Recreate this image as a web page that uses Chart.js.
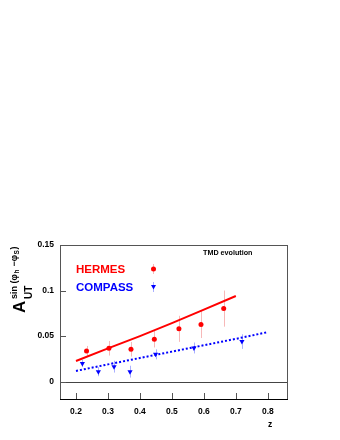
<!DOCTYPE html>
<html>
<head>
<meta charset="utf-8">
<script src="https://cdn.jsdelivr.net/npm/chart.js@4"></script>
<style>
  body { margin: 0; background: #fff; }
  canvas { display: block; }
</style>
</head>
<body>
<canvas id="sivers" width="340" height="440"></canvas>
<script>
// Data
const xTicks = [0.2, 0.3, 0.4, 0.5, 0.6, 0.7, 0.8];
const yTicks = [0, 0.05, 0.1, 0.15];

// TMD evolution curves
const hermesCurveZ = [0.2, 0.3, 0.4, 0.5, 0.6, 0.7];
const hermesCurve = [0.0227, 0.0365, 0.050, 0.0642, 0.079, 0.094];
const compassCurveZ = [0.2, 0.3, 0.4, 0.5, 0.6, 0.7, 0.8];
const compassCurve = [0.0118, 0.019, 0.026, 0.033, 0.040, 0.047, 0.0544];

// measured points
const hermesZ = [0.233, 0.303, 0.372, 0.445, 0.522, 0.591, 0.662];
const hermesA = [0.0337, 0.0367, 0.0356, 0.0466, 0.058, 0.0627, 0.0802];
const hermesErr = [0.0055, 0.008, 0.008, 0.009, 0.0143, 0.0148, 0.0198];
const compassZ = [0.220, 0.270, 0.319, 0.369, 0.449, 0.569, 0.719];
const compassA = [0.020, 0.011, 0.0165, 0.011, 0.030, 0.037, 0.044];
const compassErr = [0.004, 0.005, 0.0065, 0.0065, 0.0055, 0.006, 0.008];

const RED = '#ff0000';
const BLUE = '#0000ff';
const FONT = '"Liberation Sans", Arial, Helvetica, sans-serif';

const pts = (xs, ys) => xs.map((x, i) => ({ x: x, y: ys[i] }));

// error bars, zero line, frame, legend and titles
const rootStyle = {
    id: 'rootStyle',
    beforeDatasetsDraw(chart) {
        const ctx = chart.ctx;
        const xs = chart.scales.x, ys = chart.scales.y;
        const a = chart.chartArea;
        ctx.save();
        // zero line
        ctx.strokeStyle = '#444';
        ctx.lineWidth = 1;
        ctx.beginPath();
        ctx.moveTo(a.left, Math.round(ys.getPixelForValue(0)) + 0.5);
        ctx.lineTo(a.right, Math.round(ys.getPixelForValue(0)) + 0.5);
        ctx.stroke();
        // error bars
        const bars = (zs, as, es, col) => {
            ctx.strokeStyle = col;
            ctx.lineWidth = 1;
            zs.forEach((z, i) => {
                const px = Math.round(xs.getPixelForValue(z)) + 0.5;
                ctx.beginPath();
                ctx.moveTo(px, ys.getPixelForValue(as[i] - es[i]));
                ctx.lineTo(px, ys.getPixelForValue(as[i] + es[i]));
                ctx.stroke();
            });
        };
        bars(hermesZ, hermesA, hermesErr, '#f7b8b8');
        bars(compassZ, compassA, compassErr, '#aab0ff');
        ctx.restore();
    },
    afterDraw(chart) {
        const ctx = chart.ctx;
        const xs = chart.scales.x, ys = chart.scales.y;
        const a = chart.chartArea;
        ctx.save();
        // frame
        ctx.lineWidth = 1;
        ctx.strokeStyle = '#555';
        ctx.strokeRect(a.left + 0.5, a.top + 0.5, a.right - a.left, a.bottom - a.top);
        ctx.strokeStyle = '#000';
        ctx.beginPath();
        ctx.moveTo(a.left, a.bottom + 0.5);
        ctx.lineTo(a.right + 1, a.bottom + 0.5);
        ctx.stroke();
        // inward ticks
        ctx.strokeStyle = '#555';
        ctx.beginPath();
        xTicks.forEach(v => {
            const px = Math.round(xs.getPixelForValue(v)) + 0.5;
            ctx.moveTo(px, a.bottom);
            ctx.lineTo(px, a.bottom - 6);
        });
        yTicks.forEach(v => {
            const py = Math.round(ys.getPixelForValue(v)) + 0.5;
            ctx.moveTo(a.left, py);
            ctx.lineTo(a.left + 6, py);
        });
        ctx.stroke();

        // legend
        ctx.textBaseline = 'alphabetic';
        ctx.textAlign = 'left';
        ctx.font = 'bold 11.5px ' + FONT;
        ctx.fillStyle = RED;
        ctx.fillText('HERMES', 76, 273);
        ctx.fillStyle = BLUE;
        ctx.fillText('COMPASS', 76, 291);
        const lx = 153;
        ctx.lineWidth = 1;
        ctx.strokeStyle = '#f7b8b8';
        ctx.beginPath(); ctx.moveTo(lx + 0.5, 264); ctx.lineTo(lx + 0.5, 274); ctx.stroke();
        ctx.strokeStyle = '#aab0ff';
        ctx.beginPath(); ctx.moveTo(lx + 0.5, 282); ctx.lineTo(lx + 0.5, 292); ctx.stroke();
        ctx.fillStyle = RED;
        ctx.beginPath(); ctx.arc(lx + 0.5, 269, 2.5, 0, Math.PI * 2); ctx.fill();
        ctx.fillStyle = BLUE;
        ctx.beginPath();
        ctx.moveTo(lx - 2, 285); ctx.lineTo(lx + 3, 285); ctx.lineTo(lx + 0.5, 289.5);
        ctx.closePath(); ctx.fill();

        ctx.fillStyle = '#000';
        ctx.font = 'bold 7.2px ' + FONT;
        ctx.fillText('TMD evolution', 203, 255);

        // x title
        ctx.font = 'bold 8.5px ' + FONT;
        ctx.fillText('z', 268, 427);

        // y title, rotated
        ctx.translate(25, 313);
        ctx.rotate(-Math.PI / 2);
        ctx.font = 'bold 17px ' + FONT;
        ctx.fillText('A', 0, 0);
        ctx.font = 'bold 10px ' + FONT;
        ctx.fillText('UT', 14, 7);
        let x = 14;
        const sup = [['sin (\u03c6', 9, -8], ['h', 6.5, -6], [' \u2212\u03c6', 9, -8], ['S', 6.5, -6], [')', 9, -8]];
        sup.forEach(s => {
            ctx.font = 'bold ' + s[1] + 'px ' + FONT;
            ctx.fillText(s[0], x, s[2]);
            x += ctx.measureText(s[0]).width + 0.5;
        });
        ctx.restore();
    }
};

new Chart(document.getElementById('sivers'), {
    type: 'scatter',
    data: {
        datasets: [
            {
                label: 'HERMES curve',
                data: pts(hermesCurveZ, hermesCurve),
                showLine: true,
                borderColor: RED,
                borderWidth: 2,
                pointRadius: 0
            },
            {
                label: 'COMPASS curve',
                data: pts(compassCurveZ, compassCurve),
                showLine: true,
                borderColor: BLUE,
                borderWidth: 2,
                borderDash: [2, 2],
                pointRadius: 0
            },
            {
                label: 'HERMES',
                data: pts(hermesZ, hermesA),
                backgroundColor: RED,
                borderWidth: 0,
                pointRadius: 2.5
            },
            {
                label: 'COMPASS',
                data: pts(compassZ, compassA),
                backgroundColor: BLUE,
                borderWidth: 0,
                pointStyle: 'triangle',
                rotation: 180,
                pointRadius: 3
            }
        ]
    },
    options: {
        responsive: false,
        animation: false,
        events: [],
        layout: { padding: { top: 245, right: 53, bottom: 0, left: 0 } },
        plugins: {
            legend: { display: false },
            tooltip: { enabled: false }
        },
        scales: {
            x: {
                type: 'linear',
                min: 0.15,
                max: 0.86,
                afterBuildTicks: s => { s.ticks = xTicks.map(v => ({ value: v })); },
                afterFit: s => { s.height = 41; },
                grid: { display: false, drawTicks: false },
                border: { display: false },
                ticks: {
                    padding: 8,
                    color: '#000',
                    font: { family: FONT, size: 8.5, weight: 'bold' },
                    callback: v => String(v)
                }
            },
            y: {
                min: -0.019,
                max: 0.15,
                afterBuildTicks: s => { s.ticks = yTicks.map(v => ({ value: v })); },
                afterFit: s => { s.width = 60; },
                grid: { display: false, drawTicks: false },
                border: { display: false },
                ticks: {
                    padding: 6,
                    color: '#000',
                    font: { family: FONT, size: 8.5, weight: 'bold' },
                    callback: v => String(v)
                }
            }
        }
    },
    plugins: [rootStyle]
});
</script>
</body>
</html>
